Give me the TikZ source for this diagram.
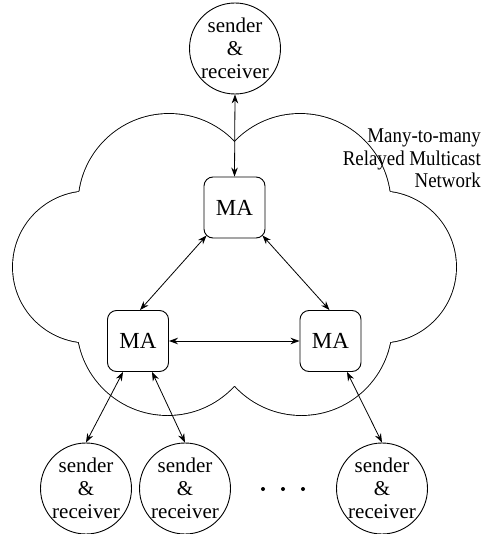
\documentclass[tikz,border=0pt]{standalone}
\usepackage{fontspec}
\setmainfont{Liberation Serif}
\newfontfamily\lblfont{Liberation Serif}[FakeStretch=0.9]
\usetikzlibrary{arrows.meta}
\begin{document}
\begin{tikzpicture}[x=1pt,y=-1pt,
  sr/.style={circle,draw,line width=0.9pt,inner sep=0pt,minimum size=91pt,align=center,
    font=\fontsize{21}{23}\selectfont},
  ma/.style={rectangle,rounded corners=9pt,draw,line width=0.9pt,minimum size=61pt,inner sep=0pt,
    font=\fontsize{23}{27}\selectfont},
  link/.style={{Stealth[length=9pt,width=6.5pt]}-{Stealth[length=9pt,width=6.5pt]},line width=0.8pt},
  lobeline/.style={draw=black,line width=1.8pt},
  lobefill/.style={fill=white}
]
\useasboundingbox (0,0) rectangle (488,534);
% cloud: outline of a union of circles
\foreach \cx/\cy/\r in {169/204.5/90.5, 300/204.5/90.5, 88.6/267/75.6, 380.4/267/75.6, 167.6/324.5/90.5, 301.4/324.5/90.5}
  \path[lobeline] (\cx,\cy) circle[radius=\r];
\foreach \cx/\cy/\r in {169/204.5/90.5, 300/204.5/90.5, 88.6/267/75.6, 380.4/267/75.6, 167.6/324.5/90.5, 301.4/324.5/90.5}
  \path[lobefill] (\cx,\cy) circle[radius=\r];
\path[lobefill] (78,192) -- (234.5,143) -- (391,192) -- (390,342) -- (234.5,386) -- (79,342) -- cycle;

\node[anchor=north east,inner sep=0pt,align=right,font=\lblfont\fontsize{21}{22.5}\selectfont] (lbl) at (481,129) {Many-to-many\\Relayed Multicast\\Network};

\node[sr] (top) at (235,48.5) {sender\\\&\\receiver};
\node[ma] (tma) at (234.5,207.5) {MA};
\node[ma] (lma) at (138,341) {MA};
\node[ma] (rma) at (330.5,341) {MA};
\node[sr] (b1) at (86,488.5) {sender\\\&\\receiver};
\node[sr] (b2) at (185,488.5) {sender\\\&\\receiver};
\node[sr] (b3) at (382,488.5) {sender\\\&\\receiver};

\fill (263,489) circle[radius=2];
\fill (283,489) circle[radius=2];
\fill (303,489) circle[radius=2];

\draw[link] (top.south) -- (tma.north);
\draw[link] ([xshift=3pt,yshift=3pt]tma.south west) -- ([xshift=2pt]lma.north);
\draw[link] ([xshift=-3pt,yshift=3pt]tma.south east) -- ([xshift=-1pt]rma.north);
\draw[link] (lma.east) -- (rma.west);
\draw[link] ([xshift=-15pt]lma.south) -- (b1.north);
\draw[link] ([xshift=14pt]lma.south) -- (b2.north);
\draw[link] ([xshift=16.5pt]rma.south) -- (b3.north);
\end{tikzpicture}
\end{document}
